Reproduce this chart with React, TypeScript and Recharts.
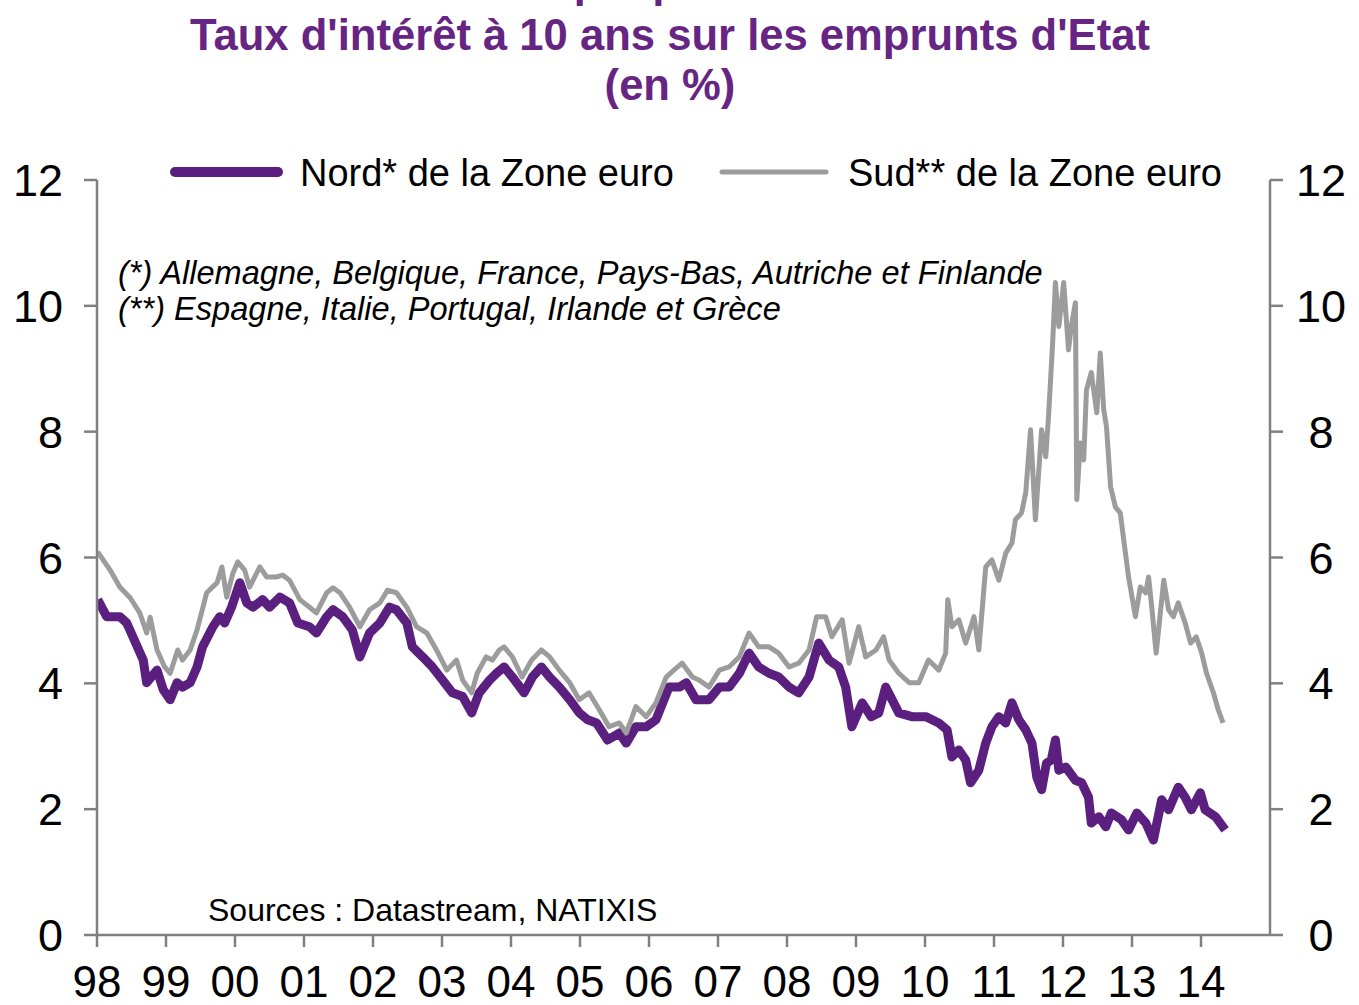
import React from 'react';
import { LineChart, Line, XAxis, YAxis } from 'recharts';

// decimal years
const nordYears = [
  1998.01, 1998.14, 1998.33, 1998.43, 1998.52, 1998.67, 1998.72, 1998.87, 1998.96, 1999.06,
  1999.16, 1999.24, 1999.35, 1999.45, 1999.53, 1999.68, 1999.78, 1999.85, 1999.95, 2000.07,
  2000.17, 2000.26, 2000.4, 2000.5, 2000.65, 2000.79, 2000.91, 2001.08, 2001.18, 2001.33,
  2001.42, 2001.56, 2001.7, 2001.81, 2001.95, 2002.1, 2002.24, 2002.34, 2002.49, 2002.57,
  2002.72, 2002.86, 2003.01, 2003.15, 2003.3, 2003.43, 2003.54, 2003.69, 2003.79, 2003.9,
  2004.02, 2004.19, 2004.31, 2004.44, 2004.56, 2004.7, 2004.85, 2004.99, 2005.11, 2005.24,
  2005.4, 2005.57, 2005.67, 2005.81, 2005.96, 2006.1, 2006.29, 2006.44, 2006.54, 2006.68,
  2006.87, 2007.02, 2007.16, 2007.31, 2007.45, 2007.59, 2007.74, 2007.88, 2008.03, 2008.17,
  2008.32, 2008.46, 2008.61, 2008.75, 2008.85, 2008.94, 2009.09, 2009.22, 2009.33, 2009.43,
  2009.62, 2009.81, 2010.01, 2010.2, 2010.32, 2010.39, 2010.49, 2010.59, 2010.66, 2010.78,
  2010.88, 2010.97, 2011.07, 2011.17, 2011.26, 2011.36, 2011.46, 2011.55, 2011.62, 2011.69,
  2011.76, 2011.83, 2011.89, 2011.94, 2012.04, 2012.18, 2012.27, 2012.37, 2012.41, 2012.52,
  2012.62, 2012.7, 2012.85, 2012.95, 2013.07, 2013.2, 2013.31, 2013.43, 2013.53, 2013.67,
  2013.77, 2013.86, 2013.99, 2014.06, 2014.21, 2014.35,
];
const nordValues = [
  5.33, 5.06, 5.06, 4.96, 4.74, 4.37, 4.01, 4.21, 3.9, 3.74,
  4.01, 3.94, 4.01, 4.26, 4.58, 4.9, 5.06, 4.96, 5.21, 5.6,
  5.28, 5.21, 5.33, 5.21, 5.37, 5.28, 4.96, 4.9, 4.8, 5.06,
  5.17, 5.06, 4.85, 4.42, 4.8, 4.96, 5.21, 5.17, 4.96, 4.58,
  4.42, 4.26, 4.05, 3.85, 3.79, 3.53, 3.85, 4.05, 4.16, 4.26,
  4.1, 3.85, 4.1, 4.26, 4.1, 3.94, 3.74, 3.53, 3.42, 3.37,
  3.1, 3.21, 3.05, 3.31, 3.31, 3.42, 3.94, 3.94, 4.01, 3.74,
  3.74, 3.94, 3.94, 4.16, 4.48, 4.26, 4.16, 4.1, 3.94, 3.85,
  4.1, 4.64, 4.37, 4.26, 3.94, 3.31, 3.69, 3.47, 3.53, 3.94,
  3.53, 3.47, 3.47, 3.37, 3.26, 2.83, 2.94, 2.78, 2.42, 2.62,
  3.05, 3.31, 3.47, 3.37, 3.69, 3.42, 3.26, 3.05, 2.51, 2.31,
  2.73, 2.78, 3.1, 2.62, 2.67, 2.46, 2.42, 2.19, 1.78, 1.88,
  1.72, 1.94, 1.83, 1.67, 1.94, 1.78, 1.51, 2.15, 1.99, 2.35,
  2.19, 1.99, 2.26, 1.99, 1.88, 1.67,
];

const sudYears = [
  1998.01, 1998.19, 1998.33, 1998.48, 1998.62, 1998.72, 1998.77, 1998.87, 1998.98, 1999.06,
  1999.17, 1999.24, 1999.35, 1999.45, 1999.59, 1999.74, 1999.81, 1999.88, 1999.97, 2000.04,
  2000.14, 2000.21, 2000.36, 2000.46, 2000.6, 2000.69, 2000.79, 2000.94, 2001.08, 2001.18,
  2001.33, 2001.42, 2001.52, 2001.66, 2001.81, 2001.95, 2002.1, 2002.21, 2002.34, 2002.49,
  2002.63, 2002.78, 2002.92, 2003.07, 2003.21, 2003.3, 2003.43, 2003.51, 2003.64, 2003.73,
  2003.83, 2003.9, 2004.02, 2004.16, 2004.3, 2004.44, 2004.56, 2004.7, 2004.85, 2004.99,
  2005.13, 2005.28, 2005.42, 2005.57, 2005.67, 2005.81, 2005.96, 2006.1, 2006.25, 2006.36,
  2006.48, 2006.63, 2006.73, 2006.87, 2007.02, 2007.16, 2007.31, 2007.45, 2007.59, 2007.74,
  2007.88, 2008.03, 2008.17, 2008.32, 2008.43, 2008.56, 2008.65, 2008.8, 2008.9, 2009.04,
  2009.14, 2009.29, 2009.4, 2009.48, 2009.62, 2009.77, 2009.91, 2010.05, 2010.2, 2010.3,
  2010.33, 2010.39, 2010.49, 2010.59, 2010.71, 2010.78, 2010.88, 2010.97, 2011.07, 2011.17,
  2011.26, 2011.31, 2011.4, 2011.46, 2011.53, 2011.6, 2011.69, 2011.75, 2011.79, 2011.85,
  2011.89, 2011.94, 2012.01, 2012.08, 2012.12, 2012.18, 2012.2, 2012.25, 2012.3, 2012.34,
  2012.41, 2012.49, 2012.54, 2012.59, 2012.63, 2012.69, 2012.76, 2012.83, 2012.88, 2012.95,
  2013.05, 2013.12, 2013.2, 2013.24, 2013.28, 2013.35, 2013.46, 2013.53, 2013.6, 2013.67,
  2013.77, 2013.85, 2013.93, 2014.01, 2014.08, 2014.18, 2014.25, 2014.32,
];
const sudValues = [
  6.09, 5.8, 5.53, 5.36, 5.12, 4.8, 5.05, 4.53, 4.26, 4.16,
  4.53, 4.37, 4.53, 4.85, 5.44, 5.6, 5.85, 5.37, 5.75, 5.93,
  5.8, 5.53, 5.85, 5.69, 5.69, 5.72, 5.64, 5.33, 5.21, 5.12,
  5.44, 5.52, 5.44, 5.21, 4.9, 5.17, 5.28, 5.48, 5.44, 5.21,
  4.9, 4.8, 4.53, 4.21, 4.37, 4.05, 3.85, 4.16, 4.42, 4.37,
  4.53, 4.58, 4.42, 4.1, 4.37, 4.53, 4.42, 4.21, 4.01, 3.74,
  3.85, 3.58, 3.31, 3.37, 3.21, 3.63, 3.47, 3.69, 4.1, 4.21,
  4.32, 4.1, 4.05, 3.94, 4.21, 4.26, 4.42, 4.8, 4.58, 4.58,
  4.48, 4.26, 4.32, 4.53, 5.06, 5.06, 4.74, 5.01, 4.32, 4.9,
  4.42, 4.53, 4.74, 4.37, 4.16, 4.01, 4.01, 4.37, 4.21, 4.48,
  5.33, 4.9, 5.01, 4.64, 5.06, 4.53, 5.85, 5.96, 5.64, 6.07,
  6.23, 6.6, 6.71, 7.03, 8.03, 6.6, 8.03, 7.6, 8.24, 9.41,
  10.37, 9.67, 10.37, 9.3, 9.67, 10.05, 6.92, 7.82, 7.55, 8.66,
  8.94, 8.3, 9.25, 8.35, 8.08, 7.12, 6.8, 6.71, 6.28, 5.69,
  5.06, 5.53, 5.44, 5.69, 5.28, 4.48, 5.64, 5.17, 5.06, 5.28,
  4.96, 4.64, 4.74, 4.48, 4.16, 3.85, 3.58, 3.37,
];

const yearTicks = [1998, 1999, 2000, 2001, 2002, 2003, 2004, 2005, 2006, 2007, 2008, 2009, 2010, 2011, 2012, 2013, 2014];
const valueTicks = [0, 2, 4, 6, 8, 10, 12];

const nordData = nordYears.map((t, i) => ({ t, v: nordValues[i] }));
const sudData = sudYears.map((t, i) => ({ t, v: sudValues[i] }));

const FONT = '"Liberation Sans", Arial, Helvetica, sans-serif';
const PURPLE = '#5a1f7f';
const GREY = '#9c9c9c';
const AXIS = '#808080';
const TITLE = '#662483';

const LeftTick = ({ x, y, payload }: any) => (
  <text x={x - 19} y={y + 16} textAnchor="end" fontSize={45} fontFamily={FONT} fill="#000">
    {payload.value}
  </text>
);

const RightTick = ({ y, payload }: any) => (
  <text x={1321} y={y + 16} textAnchor="middle" fontSize={45} fontFamily={FONT} fill="#000">
    {payload.value}
  </text>
);

const BottomTick = ({ x, payload }: any) => (
  <text x={x} y={997} textAnchor="middle" fontSize={44} fontFamily={FONT} fill="#000">
    {String(payload.value).slice(2)}
  </text>
);

export default function App() {
  return (
    <div style={{ position: 'absolute', left: 0, top: 0, width: 1359, height: 1005, background: '#fff', overflow: 'hidden' }}>
      <LineChart
        width={1359}
        height={1005}
        margin={{ top: 180, right: 29, bottom: 10, left: 37 }}
      >
        <XAxis
          dataKey="t"
          type="number"
          domain={[1998, 2015]}
          ticks={yearTicks}
          allowDataOverflow
          stroke={AXIS}
          strokeWidth={2.5}
          tickSize={12}
          height={60}
          tick={<BottomTick />}
        />
        <YAxis
          yAxisId="left"
          domain={[0, 12]}
          ticks={valueTicks}
          width={60}
          stroke={AXIS}
          strokeWidth={2.5}
          tickSize={13}
          tick={<LeftTick />}
        />
        <YAxis
          yAxisId="right"
          orientation="right"
          domain={[0, 12]}
          ticks={valueTicks}
          width={60}
          stroke={AXIS}
          strokeWidth={2.5}
          tickSize={13}
          tick={<RightTick />}
        />
        <Line
          yAxisId="left"
          data={nordData}
          dataKey="v"
          name="Nord* de la Zone euro"
          type="linear"
          stroke={PURPLE}
          strokeWidth={9}
          strokeLinejoin="round"
          dot={false}
          isAnimationActive={false}
        />
        <Line
          yAxisId="right"
          data={sudData}
          dataKey="v"
          name="Sud** de la Zone euro"
          type="linear"
          stroke={GREY}
          strokeWidth={5}
          strokeLinejoin="round"
          dot={false}
          isAnimationActive={false}
        />
      </LineChart>

      {/* titles, legend and notes */}
      <svg width={1359} height={1005} style={{ position: 'absolute', left: 0, top: 0, pointerEvents: 'none' }}>
        <text x={625} y={-3} textAnchor="middle" fontSize={43} fontWeight="bold" fontFamily={FONT} fill={TITLE}>Graphique 1</text>
        <text x={670} y={50} textAnchor="middle" fontSize={43.6} fontWeight="bold" fontFamily={FONT} fill={TITLE}>
          Taux d'intérêt à 10 ans sur les emprunts d'Etat
        </text>
        <text x={670} y={100} textAnchor="middle" fontSize={43.6} fontWeight="bold" fontFamily={FONT} fill={TITLE}>(en %)</text>

        <line x1={175} y1={172} x2={278} y2={172} stroke={PURPLE} strokeWidth={10} strokeLinecap="round" />
        <text x={300} y={186} fontSize={38} fontFamily={FONT} fill="#000">Nord* de la Zone euro</text>
        <line x1={722} y1={172} x2={826} y2={172} stroke={GREY} strokeWidth={5} strokeLinecap="round" />
        <text x={848} y={186} fontSize={38} fontFamily={FONT} fill="#000">Sud** de la Zone euro</text>

        <text x={118} y={284} fontSize={32.6} fontStyle="italic" fontFamily={FONT} fill="#000">
          (*) Allemagne, Belgique, France, Pays-Bas, Autriche et Finlande
        </text>
        <text x={118} y={320} fontSize={32.6} fontStyle="italic" fontFamily={FONT} fill="#000">
          (**) Espagne, Italie, Portugal, Irlande et Grèce
        </text>
        <text x={208} y={921} fontSize={32} fontFamily={FONT} fill="#000">Sources : Datastream, NATIXIS</text>
      </svg>
    </div>
  );
}
